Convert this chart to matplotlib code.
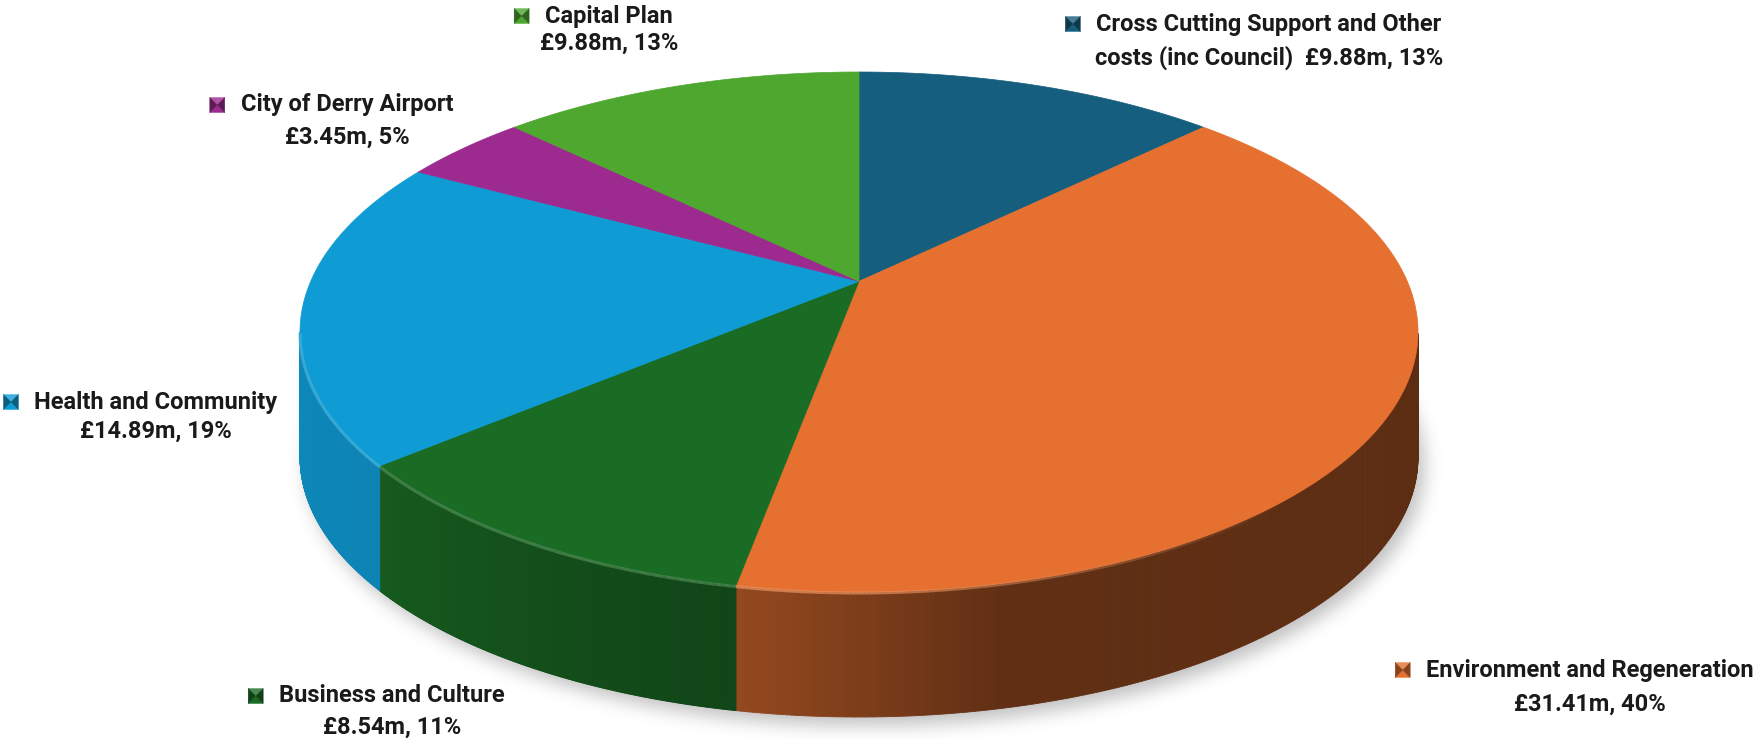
import numpy as np
import matplotlib.pyplot as plt
from matplotlib.patches import Polygon
from matplotlib.collections import PolyCollection, LineCollection
from matplotlib.colors import to_rgb

# data, clockwise from 12 o'clock
values = [9.88, 31.41, 8.54, 14.89, 3.45, 9.88]
percents = [13, 40, 11, 19, 5, 13]
name_line1 = ["Cross Cutting Support and Other", "Environment and Regeneration",
              "Business and Culture", "Health and Community",
              "City of Derry Airport", "Capital Plan"]
name_line2 = ["costs (inc Council)", "", "", "", "", ""]
top_colors = ["#165E7E", "#E5702F", "#1A6B24", "#0F9BD4", "#9C2A8F", "#4EA72E"]

# label placement (centre x, line 1 y, line 2 y) in pixels
label_pos = [(1269, 24, 58), (1590, 670, 704), (392, 696, 727),
             (156, 402, 431), (347, 105, 137), (609, 16, 43)]

W, H = 1760, 739
cx, cy, a, b = 859, 332, 559, 260
depth = 125
t = 0.195          # perspective: pie centre sits above ellipse centre
s = np.sqrt(1 - t * t)

plt.rcParams['font.family'] = ['Roboto', 'DejaVu Sans']

fig = plt.figure(figsize=(W / 100, H / 100), dpi=100)
ax = fig.add_axes([0, 0, 1, 1])
ax.set_xlim(0, W)
ax.set_ylim(H, 0)
ax.axis('off')


def proj(theta):
    th = np.radians(theta)
    den = 1 + t * np.sin(th)
    X = s * np.cos(th) / den
    Y = (np.sin(th) + t) / den
    return cx + a * X, cy - b * Y, np.degrees(np.arctan2(Y, X))


def shade(psi):
    return np.interp(psi, [-180, -150, -100, -75, 0], [0.88, 0.85, 0.63, 0.42, 0.40])


# soft shadow under the pie
yy, xx = np.mgrid[0:H, 0:W]
mask = (((xx - cx - 6) / a) ** 2 + ((yy - cy - depth - 8) / b) ** 2 <= 1).astype(float)
for _ in range(3):
    for axis in (0, 1):
        k = np.ones(17) / 17
        mask = np.apply_along_axis(lambda r: np.convolve(r, k, mode='same'), axis, mask)
img = np.zeros((H, W, 4))
img[..., :3] = 0.45
img[..., 3] = mask * 0.45
ax.imshow(img, extent=[0, W, H, 0], zorder=0, aspect='auto')
ax.set_xlim(0, W)
ax.set_ylim(H, 0)

total = sum(values)
bounds = 90 - 360 * np.concatenate([[0], np.cumsum(values)]) / total
apex_y = cy - b * t

for i, col in enumerate(top_colors):
    th = np.linspace(bounds[i], bounds[i + 1], 400)
    px, py, psi = proj(th)
    base = np.array(to_rgb(col))

    # side wall strips
    vis = py >= cy
    quads, cols, rim, rimc = [], [], [], []
    for j in range(len(th) - 1):
        if vis[j] and vis[j + 1]:
            quads.append([(px[j], py[j]), (px[j + 1], py[j + 1]),
                          (px[j + 1], py[j + 1] + depth), (px[j], py[j] + depth)])
            f = shade((psi[j] + psi[j + 1]) / 2)
            cols.append(base * f)
            rim.append([(px[j], py[j] + 1), (px[j + 1], py[j + 1] + 1)])
            hl = np.clip(base + (1 - base) * 0.25, 0, 1)
            al = np.interp((psi[j] + psi[j + 1]) / 2, [-180, -90, -40, 0], [0.8, 0.7, 0.0, 0.0])
            rimc.append((*hl, al))
    if quads:
        ax.add_collection(PolyCollection(quads, facecolors=cols, edgecolors=cols,
                                         linewidths=0.6, zorder=2))

    # top face wedge
    pts = [(cx, apex_y)] + list(zip(px, py))
    ax.add_patch(Polygon(pts, closed=True, facecolor=col, edgecolor=col,
                         linewidth=0.5, zorder=3))
    if rim:
        ax.add_collection(LineCollection(rim, colors=rimc, linewidths=2.2, zorder=4))

# labels
texts = []
for i in range(len(values)):
    x, y1, y2 = label_pos[i]
    prefix = name_line2[i] + "  " if name_line2[i] else ""
    line2 = prefix + f"£{values[i]:.2f}m, {percents[i]}%"
    t1 = ax.text(x, y1, name_line1[i], ha='center', va='center', fontsize=17,
                 fontweight='bold', color='#1a1a1a', zorder=5)
    ax.text(x, y2, line2, ha='center', va='center', fontsize=17,
            fontweight='bold', color='#1a1a1a', zorder=5)
    texts.append(t1)

fig.canvas.draw()
inv = ax.transData.inverted()
msz = 15
for i, t1 in enumerate(texts):
    bb = t1.get_window_extent()
    left, _ = inv.transform((bb.x0, bb.y0))
    y1 = label_pos[i][1]
    x1 = left - 16
    x0 = x1 - msz
    ya, yb = y1 - msz / 2, y1 + msz / 2
    xm, ym = (x0 + x1) / 2, y1
    base = np.array(to_rgb(top_colors[i]))
    light = np.clip(base + (1 - base) * 0.2, 0, 1)
    dark = base * 0.6
    tris = [([(x0, ya), (x1, ya), (xm, ym)], light),
            ([(x0, yb), (x1, yb), (xm, ym)], base),
            ([(x0, ya), (x0, yb), (xm, ym)], dark),
            ([(x1, ya), (x1, yb), (xm, ym)], dark)]
    for tri, c in tris:
        ax.add_patch(Polygon(tri, closed=True, facecolor=c, edgecolor=c,
                             linewidth=0.3, zorder=5))

fig.savefig('out.png', dpi=100)
